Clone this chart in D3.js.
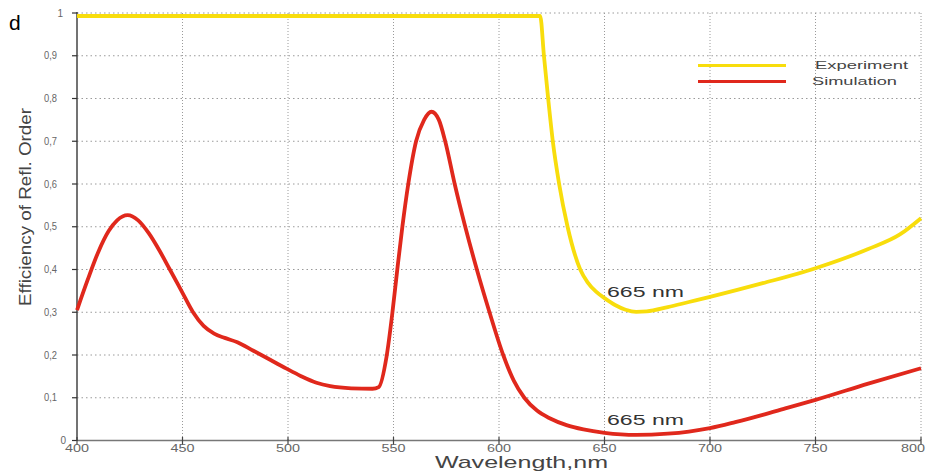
<!DOCTYPE html>
<html><head><meta charset="utf-8">
<script src="https://cdn.jsdelivr.net/npm/d3@7"></script>
<style>html,body{margin:0;padding:0;background:#fff;}svg{display:block;font-family:"Liberation Sans",Arial,sans-serif;}</style>
</head><body>
<svg id="chart" width="926" height="474"></svg>
<script>
const xTicks = [400,450,500,550,600,650,700,750,800];
const xTickLabels = ["400","450","500","550","600","650","700","750","800"];
const yTicks = [0,0.1,0.2,0.3,0.4,0.5,0.6,0.7,0.8,0.9,1];
const yTickLabels = ["0","0,1","0,2","0,3","0,4","0,5","0,6","0,7","0,8","0,9","1"];

const expWl  = [400,450,500,550,600,619.5,621.3,623.3,625.5,628.5,632.5,638.5,642,646,650,655,660,665,670,680,690,700,725,750,775,790,800];
const expVal = [0.993,0.993,0.993,0.993,0.993,0.993,0.90,0.80,0.70,0.60,0.50,0.40,0.37,0.348,0.333,0.317,0.306,0.301,0.302,0.312,0.324,0.336,0.368,0.403,0.448,0.482,0.52];

const simWl  = [400,405,410,415,419,424,429,434,439,444,449.5,455,460,465,470,476,483.6,490,499.3,506,513.5,520,530,540,543,546.7,549.5,551.8,554.2,557,560.7,564.5,568,571.5,574.5,579,584,589.5,595.5,602,607,612,618,624,632,640,650,665,680,690,700,712,725,737,750,775,800];
const simVal = [0.305,0.375,0.44,0.49,0.515,0.527,0.515,0.485,0.445,0.40,0.35,0.30,0.268,0.25,0.24,0.23,0.21,0.193,0.168,0.151,0.135,0.127,0.122,0.121,0.125,0.196,0.30,0.40,0.50,0.60,0.70,0.75,0.769,0.75,0.70,0.60,0.50,0.40,0.30,0.20,0.14,0.10,0.07,0.052,0.036,0.026,0.018,0.013,0.016,0.021,0.029,0.043,0.06,0.077,0.095,0.133,0.169];

const seriesNames = ["Experiment","Simulation"];
const seriesColors = ["#f8dd0c","#e0281c"];
const annotations = ["665 nm","665 nm"];

const svg = d3.select("#chart");
const x = d3.scaleLinear().domain([400,800]).range([77,921]);
const y = d3.scaleLinear().domain([0,1]).range([440.5,13]);

function fitText(sel, len){ sel.attr("textLength", len).attr("lengthAdjust","spacingAndGlyphs"); return sel; }

// grid
const g = svg.append("g");
g.selectAll(".hg").data(yTicks.slice(1)).join("line")
  .attr("x1",77).attr("x2",921).attr("y1",d=>y(d)).attr("y2",d=>y(d))
  .attr("stroke","#9a9a9a").attr("stroke-width",1).attr("stroke-dasharray","1.5,3");
g.selectAll(".vg").data(xTicks.slice(1)).join("line")
  .attr("x1",d=>x(d)).attr("x2",d=>x(d)).attr("y1",13).attr("y2",440.5)
  .attr("stroke","#9a9a9a").attr("stroke-width",1).attr("stroke-dasharray","1,2");

// axes lines
svg.append("line").attr("x1",77).attr("x2",921).attr("y1",440.5).attr("y2",440.5).attr("stroke","#777").attr("stroke-width",1.5);
svg.append("line").attr("x1",77).attr("x2",77).attr("y1",12).attr("y2",441).attr("stroke","#444").attr("stroke-width",1.5);

// ticks
svg.selectAll(".yt").data(yTicks).join("line")
  .attr("x1",72).attr("x2",77).attr("y1",d=>y(d)).attr("y2",d=>y(d)).attr("stroke","#333").attr("stroke-width",1.2);
svg.selectAll(".xt").data(xTicks).join("line")
  .attr("x1",d=>x(d)).attr("x2",d=>x(d)).attr("y1",437).attr("y2",445).attr("stroke","#444").attr("stroke-width",1.2);

// tick labels
svg.selectAll(".ytl").data(yTicks).join("text")
  .attr("x",(d,i)=> i===0 ? 66 : (i===yTicks.length-1 ? 63 : 57))
  .attr("y",d=>y(d)+3.5)
  .attr("text-anchor","end").attr("font-size",10).attr("fill","#666")
  .text((d,i)=>yTickLabels[i])
  .each(function(d,i){ if(yTickLabels[i].length>1) fitText(d3.select(this),13); });
svg.selectAll(".xtl").data(xTicks).join("text")
  .attr("x",(d,i)=> i===xTicks.length-1 ? 925 : x(d)).attr("y",452)
  .attr("text-anchor",(d,i)=> i===xTicks.length-1 ? "end" : "middle").attr("font-size",11).attr("fill","#666")
  .text((d,i)=>xTickLabels[i])
  .each(function(){ fitText(d3.select(this),24); });

// titles
fitText(svg.append("text").attr("x",435).attr("y",468).attr("font-size",17).attr("fill","#444").text("Wavelength,nm"),173);
fitText(svg.append("text").attr("transform","translate(31,306) rotate(-90)").attr("font-size",16).attr("fill","#444").text("Efficiency of Refl. Order"),198);
svg.append("text").attr("x",9).attr("y",30).attr("font-size",21).attr("fill","#000").text("d");

// curves
const line = d3.line().x(d=>x(d[0])).y(d=>y(d[1])).curve(d3.curveMonotoneX);
const expData = expWl.map((w,i)=>[w,expVal[i]]);
const simData = simWl.map((w,i)=>[w,simVal[i]]);
svg.append("path").datum(expData).attr("d",line).attr("fill","none").attr("stroke",seriesColors[0]).attr("stroke-width",3.8).attr("stroke-linejoin","round");
svg.append("path").datum(simData).attr("d",line).attr("fill","none").attr("stroke",seriesColors[1]).attr("stroke-width",3.8).attr("stroke-linejoin","round");

// annotations
fitText(svg.append("text").attr("x",607).attr("y",297).attr("font-size",14).attr("fill","#333").text(annotations[0]),77);
fitText(svg.append("text").attr("x",607).attr("y",424.5).attr("font-size",14).attr("fill","#333").text(annotations[1]),77);

// legend
const legY = [65.5,81.5];
const legTextX = [815,812];
const legTextLen = [93,85];
seriesNames.forEach((n,i)=>{
  svg.append("line").attr("x1",698).attr("x2",786).attr("y1",legY[i]).attr("y2",legY[i]).attr("stroke",seriesColors[i]).attr("stroke-width",3);
  fitText(svg.append("text").attr("x",legTextX[i]).attr("y",legY[i]+3.5).attr("font-size",11.5).attr("fill","#444").text(n),legTextLen[i]);
});
</script>
</body></html>
